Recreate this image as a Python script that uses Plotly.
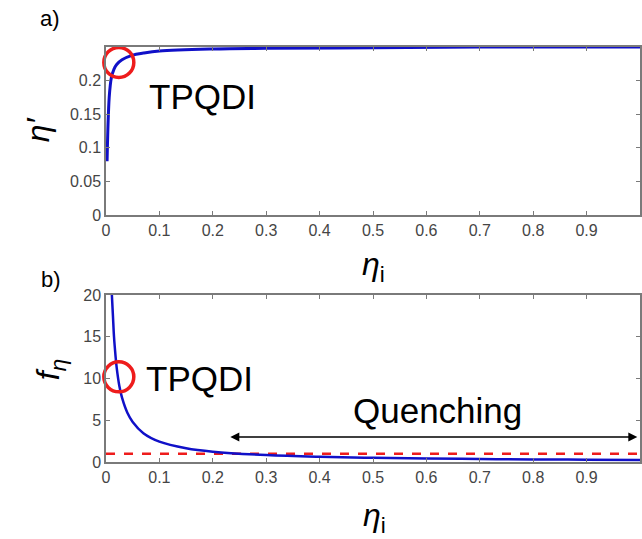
import plotly.graph_objects as go
from plotly.subplots import make_subplots

# Top panel: eta' vs eta_i
eta_i_top = [0.002, 0.004, 0.006, 0.008, 0.010, 0.015, 0.020, 0.030, 0.050, 0.070, 0.100, 0.200, 0.300, 0.500, 0.700, 1.000]
eta_prime = [0.080, 0.140, 0.175, 0.193, 0.204, 0.217, 0.224, 0.231, 0.238, 0.241, 0.244, 0.247, 0.248, 0.249, 0.250, 0.250]

# Bottom panel: f_eta vs eta_i
eta_i_bot = [0.011, 0.013, 0.015, 0.018, 0.020, 0.025, 0.030, 0.040, 0.050, 0.070, 0.100, 0.150, 0.200, 0.300, 0.400, 0.500, 0.600, 0.700, 0.800, 0.900, 1.000]
f_eta     = [20.0, 17.5, 15.0, 12.6, 11.3, 9.1, 7.7, 5.9, 4.8, 3.45, 2.44, 1.65, 1.24, 0.83, 0.62, 0.50, 0.41, 0.36, 0.31, 0.28, 0.25]

quench_level = 1.0
quench_arrow = [0.23, 0.995, 3.0]  # x start, x end, y
tpqdi_top = (0.024, 0.227)
tpqdi_bot = (0.024, 10.2)

x_ticks = [0, 0.1, 0.2, 0.3, 0.4, 0.5, 0.6, 0.7, 0.8, 0.9, 1.0]
x_ticktext = ["0", "0.1", "0.2", "0.3", "0.4", "0.5", "0.6", "0.7", "0.8", "0.9", "1"]
y_top_ticks = [0, 0.05, 0.1, 0.15, 0.2]
y_top_text = ["0", "0.05", "0.1", "0.15", "0.2"]
y_bot_ticks = [0, 5, 10, 15, 20]

W, H = 642, 539
ML, MR, MT, MB = 106, 0, 47, 77
ph = H - MT - MB

fig = make_subplots(rows=2, cols=1, vertical_spacing=0.0)
BLUE = "#1010c8"
RED = "#ee1c1c"

fig.add_trace(go.Scatter(x=eta_i_top, y=eta_prime, mode="lines",
                         line=dict(color=BLUE, width=3, shape="spline"),
                         showlegend=False, cliponaxis=False), row=1, col=1)
fig.add_trace(go.Scatter(x=[tpqdi_top[0]], y=[tpqdi_top[1]], mode="markers",
                         marker=dict(symbol="circle-open", size=30, color=RED, line=dict(width=3.5, color=RED)),
                         showlegend=False, cliponaxis=False), row=1, col=1)

fig.add_trace(go.Scatter(x=[0, 1], y=[quench_level, quench_level], mode="lines",
                         line=dict(color=RED, width=2.5, dash="dash"), showlegend=False), row=2, col=1)
fig.add_trace(go.Scatter(x=eta_i_bot, y=f_eta, mode="lines",
                         line=dict(color=BLUE, width=2.5, shape="spline"),
                         showlegend=False), row=2, col=1)
fig.add_trace(go.Scatter(x=[tpqdi_bot[0]], y=[tpqdi_bot[1]], mode="markers",
                         marker=dict(symbol="circle-open", size=30, color=RED, line=dict(width=3.5, color=RED)),
                         showlegend=False, cliponaxis=False), row=2, col=1)

axis_common = dict(showline=True, linecolor="#7a7a7a", linewidth=1.5, mirror="ticks",
                   ticks="inside", ticklen=4, tickcolor="#7a7a7a", tickwidth=1,
                   showgrid=False, zeroline=False,
                   tickfont=dict(family="Arial, Liberation Sans", size=16, color="#454545"))

top_dom = [(462 - 215) / ph, 1.0]
bot_dom = [0.0, (462 - 295) / ph]

fig.update_xaxes(range=[0, 1.0], tickvals=x_ticks, ticktext=x_ticktext, **axis_common)
fig.update_yaxes(**axis_common)
fig.update_yaxes(range=[0, 0.25], tickvals=y_top_ticks, ticktext=y_top_text, domain=top_dom, row=1, col=1)
fig.update_yaxes(range=[0, 20], tickvals=y_bot_ticks, domain=bot_dom, row=2, col=1)

ann = []
lblfont = dict(family="Arial, Liberation Sans", size=35, color="black")
ann.append(dict(text="TPQDI", x=147, y=96, xref="paper", yref="paper", showarrow=False,
                xanchor="left", yanchor="middle", font=lblfont))
ann.append(dict(text="TPQDI", x=144, y=378, xref="paper", yref="paper", showarrow=False,
                xanchor="left", yanchor="middle", font=lblfont))
ann.append(dict(text="Quenching", x=439, y=410, xref="paper", yref="paper", showarrow=False,
                xanchor="center", yanchor="middle", font=dict(family="Arial, Liberation Sans", size=35, color="black")))
ann.append(dict(text="a)", x=50, y=18, xref="paper", yref="paper", showarrow=False,
                xanchor="center", yanchor="middle", font=dict(family="Arial, Liberation Sans", size=22, color="black")))
ann.append(dict(text="b)", x=51, y=279, xref="paper", yref="paper", showarrow=False,
                xanchor="center", yanchor="middle", font=dict(family="Arial, Liberation Sans", size=22, color="black")))
ann.append(dict(text="<i>η</i><sub>i</sub>", x=374, y=266, xref="paper", yref="paper", showarrow=False,
                xanchor="center", yanchor="middle", font=dict(family="Arial, Liberation Sans", size=32, color="black")))
ann.append(dict(text="<i>η</i><sub>i</sub>", x=376, y=517, xref="paper", yref="paper", showarrow=False,
                xanchor="center", yanchor="middle", font=dict(family="Arial, Liberation Sans", size=32, color="black")))
ann.append(dict(text="<i>η′</i>", x=38, y=130, xref="paper", yref="paper", showarrow=False, textangle=-90,
                xanchor="center", yanchor="middle", font=dict(family="Arial, Liberation Sans", size=32, color="black")))
ann.append(dict(text="<i>f</i><sub><i>η</i></sub>", x=50, y=370, xref="paper", yref="paper", showarrow=False, textangle=-90,
                xanchor="center", yanchor="middle", font=dict(family="Arial, Liberation Sans", size=32, color="black")))

# convert pixel positions to paper fractions
for a in ann:
    a["x"] = (a["x"] - ML) / (W - ML - MR)
    a["y"] = 1 - (a["y"] - MT) / ph

# Quenching arrow in data coordinates
ann.append(dict(x=quench_arrow[1], y=quench_arrow[2], ax=quench_arrow[0], ay=quench_arrow[2],
                xref="x2", yref="y2", axref="x2", ayref="y2", text="", showarrow=True,
                arrowhead=2, arrowside="end+start", arrowsize=1.2, arrowwidth=1.5, arrowcolor="black"))

fig.update_layout(width=W, height=H, margin=dict(l=ML, r=MR, t=MT, b=MB),
                  plot_bgcolor="white", paper_bgcolor="white", annotations=ann)

fig.write_html("out.html")
